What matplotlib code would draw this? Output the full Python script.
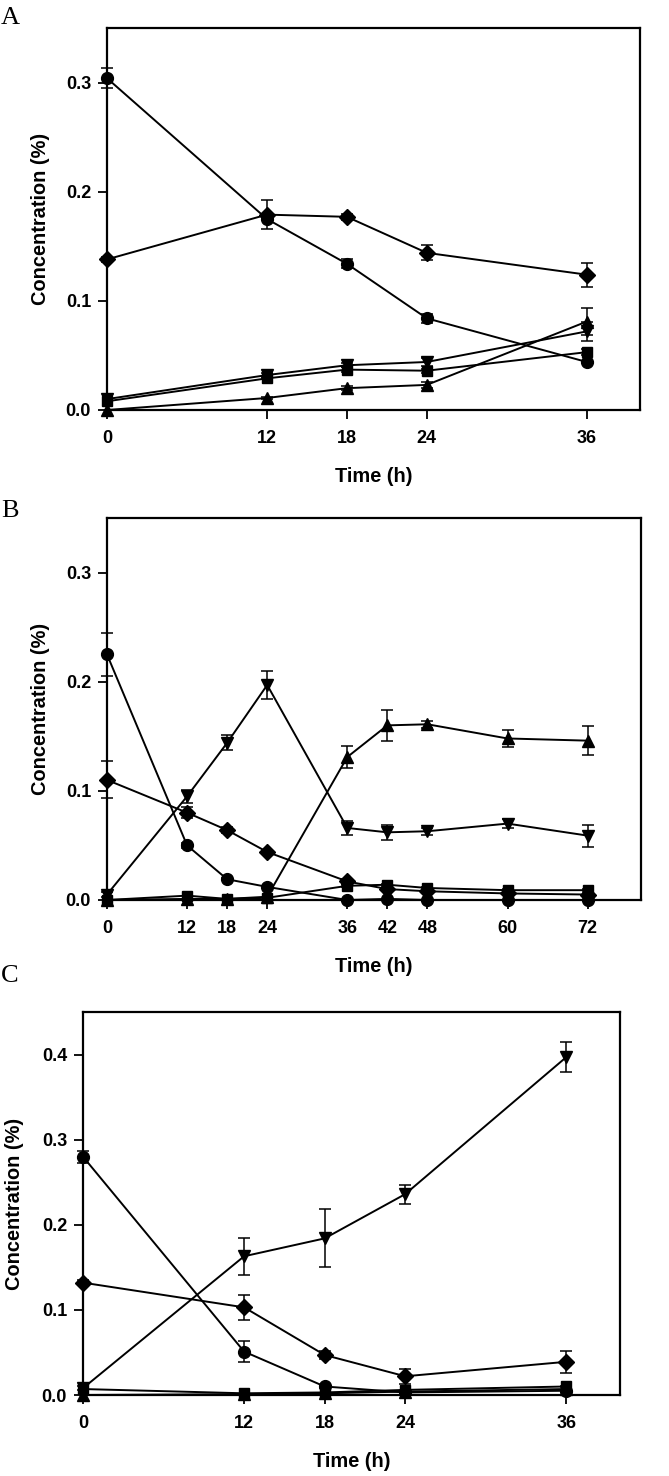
import numpy as np
import matplotlib
matplotlib.use("Agg")
import matplotlib.pyplot as plt

# panel A
timeA = [0, 12, 18, 24, 36]
circleA = [0.304, 0.175, 0.134, 0.084, 0.044]
circleA_err = [0.009, 0.0, 0.004, 0.004, 0.0]
diamondA = [0.138, 0.179, 0.177, 0.144, 0.124]
diamondA_err = [0.002, 0.013, 0.003, 0.007, 0.011]
upA = [0.0, 0.011, 0.020, 0.023, 0.081]
upA_err = [0.0, 0.001, 0.002, 0.003, 0.012]
downA = [0.010, 0.032, 0.041, 0.044, 0.072]
downA_err = [0.0, 0.002, 0.002, 0.004, 0.009]
squareA = [0.008, 0.029, 0.037, 0.036, 0.053]
squareA_err = [0.0, 0.001, 0.002, 0.002, 0.003]

# panel B
timeB = [0, 12, 18, 24, 36, 42, 48, 60, 72]
circleB = [0.225, 0.050, 0.019, 0.012, 0.000, 0.001, 0.000, 0.000, 0.000]
circleB_err = [0.020, 0.002, 0.001, 0.001, 0, 0, 0, 0, 0]
diamondB = [0.110, 0.080, 0.064, 0.044, 0.017, 0.010, 0.008, 0.006, 0.005]
diamondB_err = [0.017, 0.005, 0.003, 0.002, 0.002, 0.001, 0.001, 0.001, 0.001]
upB = [0.0, 0.001, 0.001, 0.003, 0.131, 0.160, 0.161, 0.148, 0.146]
upB_err = [0, 0, 0, 0, 0.010, 0.014, 0.003, 0.008, 0.013]
downB = [0.005, 0.095, 0.144, 0.197, 0.066, 0.062, 0.063, 0.070, 0.059]
downB_err = [0.002, 0.006, 0.007, 0.013, 0.006, 0.007, 0.003, 0.004, 0.010]
squareB = [0.0, 0.004, 0.001, 0.002, 0.013, 0.014, 0.011, 0.009, 0.009]
squareB_err = [0, 0, 0, 0, 0.001, 0.001, 0.001, 0.001, 0.001]

# panel C
timeC = [0, 12, 18, 24, 36]
circleC = [0.280, 0.051, 0.010, 0.003, 0.005]
circleC_err = [0.007, 0.012, 0.002, 0.0, 0.0]
diamondC = [0.132, 0.103, 0.047, 0.022, 0.039]
diamondC_err = [0.003, 0.015, 0.005, 0.009, 0.013]
upC = [0.0, 0.001, 0.002, 0.004, 0.007]
upC_err = [0, 0, 0, 0, 0]
downC = [0.008, 0.163, 0.184, 0.236, 0.397]
downC_err = [0.002, 0.022, 0.034, 0.011, 0.018]
squareC = [0.007, 0.002, 0.003, 0.006, 0.010]
squareC_err = [0, 0, 0, 0, 0.001]

W, H = 669.0, 1476.0
fig = plt.figure(figsize=(W / 100, H / 100), dpi=100)
fig.patch.set_facecolor("white")

# marker style for each series
styles = [("o", 8.5), ("D", 8.5), ("^", 8.5), ("v", 8.5), ("s", 7.0)]
font = ["Liberation Sans", "DejaVu Sans"]


def make_axes(left, right, top, bottom):
    return fig.add_axes([left / W, 1 - bottom / H, (right - left) / W, (bottom - top) / H])


def draw_panel(ax, t, series, errs, xmax, ymax, xticks, yticks):
    t = np.array(t)
    for (m, ms), y, e in zip(styles, series, errs):
        y = np.array(y)
        e = np.array(e)
        ax.plot(t, y, color="black", lw=1.4, marker=m, ms=ms, mfc="black", mec="black",
                clip_on=False, zorder=3)
        mask = e > 0
        if mask.any():
            ax.errorbar(t[mask], y[mask], yerr=e[mask], fmt="none", ecolor="black",
                        elinewidth=1.1, capsize=4.5, capthick=1.1, clip_on=False, zorder=2)
    ax.set_xlim(0, xmax)
    ax.set_ylim(0, ymax)
    ax.set_xticks(xticks)
    ax.set_yticks(yticks)
    ax.set_yticklabels(["%.1f" % v for v in yticks])
    ax.tick_params(axis="both", direction="out", length=6.5, width=1.3, top=False, right=False)
    ax.tick_params(axis="x", pad=8)
    ax.tick_params(axis="y", pad=5)
    for lab in ax.get_xticklabels() + ax.get_yticklabels():
        lab.set_fontfamily(font)
        lab.set_fontweight("bold")
        lab.set_fontsize(13)
    for sp in ax.spines.values():
        sp.set_linewidth(1.6)
    ax.set_xlabel("Time (h)", fontsize=14.4, fontweight="bold", family=font)
    ax.set_ylabel("Concentration (%)", fontsize=14.4, fontweight="bold", family=font)
    ax.xaxis.set_label_coords(0.5, -0.148)


axA = make_axes(107, 640, 28, 410)
draw_panel(axA, timeA, [circleA, diamondA, upA, downA, squareA],
           [circleA_err, diamondA_err, upA_err, downA_err, squareA_err],
           40, 0.35, timeA, [0.0, 0.1, 0.2, 0.3])
axA.yaxis.set_label_coords(-0.107, 0.5)

axB = make_axes(107, 641, 518, 900)
draw_panel(axB, timeB, [circleB, diamondB, upB, downB, squareB],
           [circleB_err, diamondB_err, upB_err, downB_err, squareB_err],
           80, 0.35, timeB, [0.0, 0.1, 0.2, 0.3])
axB.yaxis.set_label_coords(-0.107, 0.5)

axC = make_axes(83, 620, 1012, 1395)
draw_panel(axC, timeC, [circleC, diamondC, upC, downC, squareC],
           [circleC_err, diamondC_err, upC_err, downC_err, squareC_err],
           40, 0.45, timeC, [0.0, 0.1, 0.2, 0.3, 0.4])
axC.yaxis.set_label_coords(-0.110, 0.5)

serif = ["Liberation Serif", "DejaVu Serif"]
fig.text(1 / W, 1 - 24 / H, "A", fontsize=19, family=serif, va="baseline", ha="left")
fig.text(1 / W, 1 - 517 / H, "B", fontsize=19, family=serif, va="baseline", ha="left")
fig.text(1 / W, 1 - 982 / H, "C", fontsize=19, family=serif, va="baseline", ha="left")

fig.savefig("out.png", dpi=100, facecolor="white")
